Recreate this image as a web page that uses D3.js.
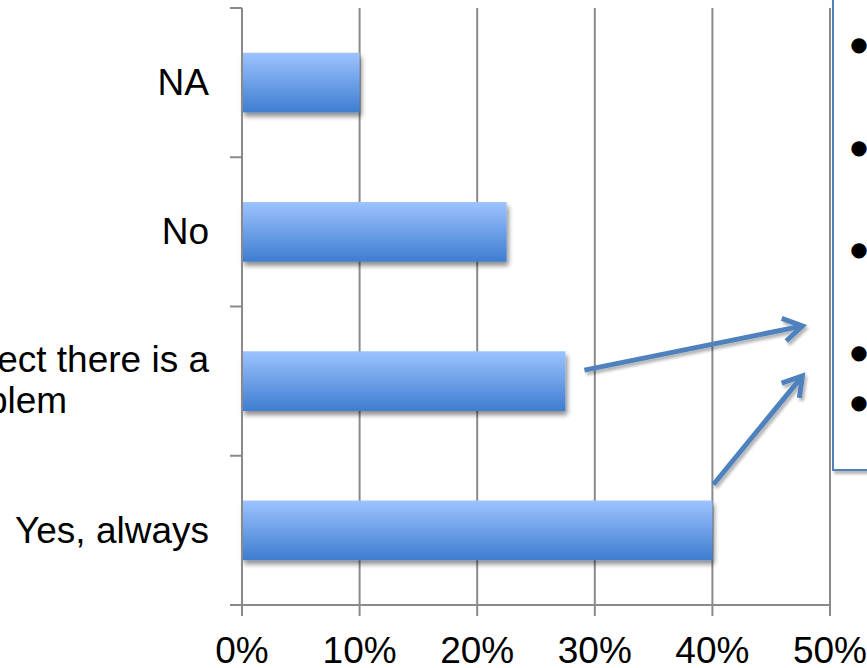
<!DOCTYPE html>
<html><head><meta charset="utf-8">
<script src="https://cdn.jsdelivr.net/npm/d3@7"></script>
<style>body{margin:0;background:#fff;overflow:hidden}svg{display:block}</style>
</head><body>
<script>
const categories = ["NA", "No", "When I suspect there is a problem", "Yes, always"];
const labelLines = [["NA"], ["No"], ["When I suspect there is a", "problem"], ["Yes, always"]];
const values = [0.10, 0.225, 0.275, 0.40];
const tickValues = [0, 0.1, 0.2, 0.3, 0.4, 0.5];
const tickLabels = ["0%", "10%", "20%", "30%", "40%", "50%"];
const bulletRows = [45, 148, 250, 353, 403];

const W = 867, H = 668;
const svg = d3.select("body").append("svg").attr("width", W).attr("height", H);
const defs = svg.append("defs");
const grad = defs.append("linearGradient").attr("id", "barGrad").attr("x1", 0).attr("y1", 0).attr("x2", 0).attr("y2", 1);
grad.append("stop").attr("offset", "0%").attr("stop-color", "#9dc3ff");
grad.append("stop").attr("offset", "100%").attr("stop-color", "#3e7dd0");
const sh = defs.append("filter").attr("id", "shadow").attr("x", "-10%").attr("y", "-20%").attr("width", "130%").attr("height", "160%");
sh.append("feGaussianBlur").attr("in", "SourceAlpha").attr("stdDeviation", 2.5).attr("result", "b");
sh.append("feOffset").attr("in", "b").attr("dx", 2).attr("dy", 4).attr("result", "o");
sh.append("feComponentTransfer").attr("in", "o").attr("result", "t").append("feFuncA").attr("type", "linear").attr("slope", 0.45);
const m = sh.append("feMerge"); m.append("feMergeNode").attr("in", "t"); m.append("feMergeNode").attr("in", "SourceGraphic");
const sh2 = defs.append("filter").attr("id", "shadow2").attr("x", "-20%").attr("y", "-20%").attr("width", "150%").attr("height", "150%");
sh2.append("feGaussianBlur").attr("in", "SourceAlpha").attr("stdDeviation", 1.5).attr("result", "b");
sh2.append("feOffset").attr("in", "b").attr("dx", 1.5).attr("dy", 2.5).attr("result", "o");
sh2.append("feComponentTransfer").attr("in", "o").attr("result", "t").append("feFuncA").attr("type", "linear").attr("slope", 0.3);
const m2 = sh2.append("feMerge"); m2.append("feMergeNode").attr("in", "t"); m2.append("feMergeNode").attr("in", "SourceGraphic");

const x = d3.scaleLinear().domain([0, 0.5]).range([242, 830]);
const y = d3.scaleBand().domain(categories).range([8, 605]).paddingInner(0.6).paddingOuter(0.3);
const step = y.step();
const axisColor = "#8a8a8a";
const font = "'Liberation Sans', Arial, sans-serif";
const fs = 37;

// gridlines
svg.append("g").selectAll("line").data(tickValues.slice(1)).join("line")
  .attr("x1", d => x(d)).attr("x2", d => x(d)).attr("y1", 8).attr("y2", 605)
  .attr("stroke", axisColor).attr("stroke-width", 2);

// bars
svg.append("g").selectAll("rect").data(categories).join("rect")
  .attr("x", x(0)).attr("y", d => y(d))
  .attr("width", (d, i) => x(values[i]) - x(0)).attr("height", y.bandwidth())
  .attr("fill", "url(#barGrad)").attr("filter", "url(#shadow)");

// x axis
const xa = svg.append("g");
xa.append("line").attr("x1", 230).attr("x2", x(0.5)).attr("y1", 605).attr("y2", 605).attr("stroke", axisColor).attr("stroke-width", 2);
xa.selectAll(".t").data(tickValues).join("line").attr("class", "t")
  .attr("x1", d => x(d)).attr("x2", d => x(d)).attr("y1", 605).attr("y2", 616)
  .attr("stroke", axisColor).attr("stroke-width", 2);
xa.selectAll("text").data(tickValues).join("text")
  .attr("x", d => x(d)).attr("y", 663).attr("text-anchor", "middle")
  .attr("font-family", font).attr("font-size", fs).attr("fill", "#000")
  .text((d, i) => tickLabels[i]);

// y axis
const ya = svg.append("g");
ya.append("line").attr("x1", x(0)).attr("x2", x(0)).attr("y1", 8).attr("y2", 616).attr("stroke", axisColor).attr("stroke-width", 2);
const bounds = d3.range(categories.length + 1).map(i => y.range()[0] + i * step);
ya.selectAll(".t").data(bounds).join("line").attr("class", "t")
  .attr("x1", 230).attr("x2", x(0)).attr("y1", d => d).attr("y2", d => d)
  .attr("stroke", axisColor).attr("stroke-width", 2);

// category labels
categories.forEach((c, i) => {
  const lines = labelLines[i];
  const cy = y(c) + y.bandwidth() / 2;
  const lh = 41;
  const t = svg.append("text").attr("font-family", font).attr("font-size", fs).attr("fill", "#000");
  const spans = lines.map((l, j) => t.append("tspan").attr("y", (lines.length > 1 ? cy - 9 : cy + 12.5) + j * lh).text(l));
  const w0 = spans[0].node().getComputedTextLength();
  const centerX = 209 - w0 / 2;
  spans.forEach(s => s.attr("x", centerX).attr("text-anchor", "middle"));
});

// text box
svg.append("rect").attr("x", 833).attr("y", -20).attr("width", 120).attr("height", 490)
  .attr("fill", "#fff").attr("stroke", "#4f81bd").attr("stroke-width", 2).attr("filter", "url(#shadow2)");
svg.append("g").selectAll("text").data(bulletRows).join("text")
  .attr("x", 859).attr("y", d => d + 6).attr("text-anchor", "middle")
  .attr("font-family", "'DejaVu Sans', sans-serif").attr("font-size", 20).text("\u25CF");

// arrows
const arrows = [
  {x1: x(values[2]) + 19, y1: y(categories[2]) + y.bandwidth() / 2 - 11, x2: x(0.4765), y2: 326},
  {x1: x(values[3]) + 1, y1: y(categories[3]) - 16, x2: x(0.4765), y2: 376}
];
const ag = svg.append("g").attr("filter", "url(#shadow2)");
arrows.forEach(a => {
  const ang = Math.atan2(a.y2 - a.y1, a.x2 - a.x1);
  const L = 22, spread = 0.55;
  const p1 = [a.x2 - L * Math.cos(ang - spread), a.y2 - L * Math.sin(ang - spread)];
  const p2 = [a.x2 - L * Math.cos(ang + spread), a.y2 - L * Math.sin(ang + spread)];
  ag.append("line").attr("x1", a.x1).attr("y1", a.y1).attr("x2", a.x2 - 2 * Math.cos(ang)).attr("y2", a.y2 - 2 * Math.sin(ang))
    .attr("stroke", "#4f81bd").attr("stroke-width", 5).attr("stroke-linecap", "butt");
  ag.append("path").attr("d", `M${p1[0]},${p1[1]}L${a.x2},${a.y2}L${p2[0]},${p2[1]}`)
    .attr("fill", "none").attr("stroke", "#4f81bd").attr("stroke-width", 5).attr("stroke-linejoin", "miter").attr("stroke-linecap", "butt");
});
</script>
</body></html>
